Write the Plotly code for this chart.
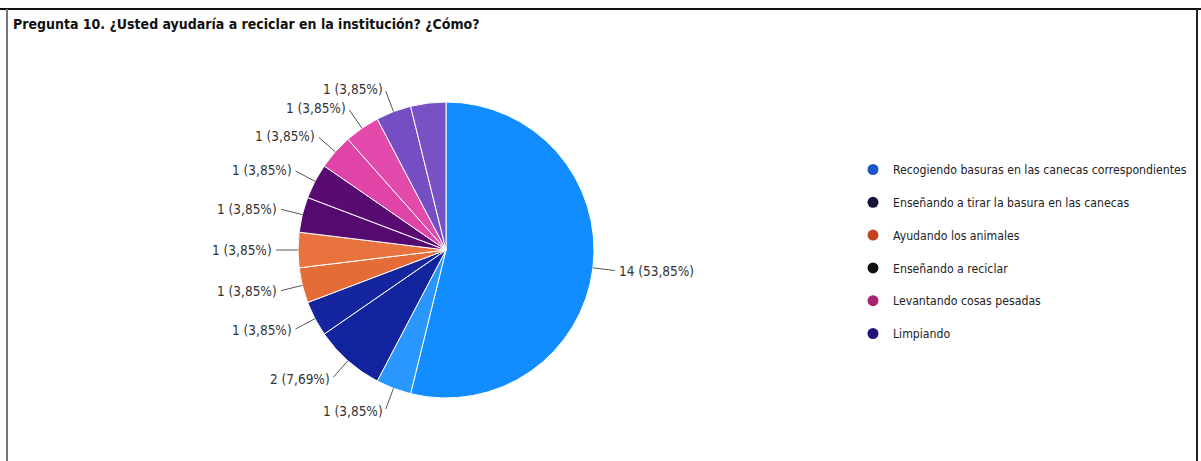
import math
import plotly.graph_objects as go

# ---- data ----
title_text = "Pregunta 10. ¿Usted ayudaría a reciclar en la institución? ¿Cómo?"
slice_labels = ["R1", "R2", "R3", "R4", "R5", "R6", "R7", "R8", "R9", "R10", "R11", "R12"]
slice_values = [14, 1, 2, 1, 1, 1, 1, 1, 1, 1, 1, 1]
slice_colors = ["#118DFF", "#2A97FF", "#12239E", "#15259E", "#E66C37", "#E8733F",
                "#540A6E", "#580C72", "#E044A7", "#E24BAB", "#744EC2", "#7852C4"]
slice_show_label = [True] * 11 + [False]

legend_labels = ["Recogiendo basuras en las canecas correspondientes",
                 "Enseñando a tirar la basura en las canecas",
                 "Ayudando los animales",
                 "Enseñando a reciclar",
                 "Levantando cosas pesadas",
                 "Limpiando"]
legend_colors = ["#1F55C8", "#14143A", "#C4431C", "#111111", "#A8236E", "#1E1678"]

# ---- layout constants ----
W, H = 1201, 461
cx, cy, r = 446, 250, 148
FONT = "DejaVu Sans Condensed, Liberation Sans Narrow, sans-serif"
LEAD = 24

fig = go.Figure()
fig.add_trace(go.Pie(
    labels=slice_labels,
    values=slice_values,
    sort=False,
    direction="clockwise",
    rotation=0,
    marker=dict(colors=slice_colors, line=dict(color="white", width=1)),
    textinfo="none",
    showlegend=False,
    domain=dict(x=[(cx - r) / W, (cx + r) / W], y=[(H - cy - r) / H, (H - cy + r) / H]),
    hoverinfo="label+value+percent",
))

# outside labels with leader lines, derived from the data
total = sum(slice_values)
annotations = []
cum = 0
for v, show in zip(slice_values, slice_show_label):
    mid = (cum + v / 2) / total * 2 * math.pi
    cum += v
    if not show:
        continue
    sx, sy = math.sin(mid), -math.cos(mid)
    px, py = cx + r * sx, cy + r * sy
    txt = f"{v} ({v / total * 100:.2f}%)".replace(".", ",")
    annotations.append(dict(
        x=px / W, y=1 - py / H, xref="paper", yref="paper",
        ax=LEAD * sx, ay=LEAD * sy, axref="pixel", ayref="pixel",
        text=txt, showarrow=True, arrowhead=0, arrowwidth=1, arrowcolor="#555555",
        standoff=0, startstandoff=2,
        xanchor="left" if sx > 0 else "right", yanchor="middle",
        font=dict(family=FONT, size=13.5, color="#333333"),
    ))

annotations.append(dict(text="<b>" + title_text + "</b>", xref="paper", yref="paper",
                        x=11 / W, y=1 - 14 / H, xanchor="left", yanchor="top",
                        showarrow=False, font=dict(family=FONT, size=14, color="#111111")))

for name, col in zip(legend_labels, legend_colors):
    fig.add_trace(go.Scatter(
        x=[None], y=[None], mode="markers", name=name,
        marker=dict(color=col, size=11, symbol="circle"),
        legendgroup=name, showlegend=True,
    ))

fig.update_layout(
    width=W, height=H,
    margin=dict(l=0, r=0, t=0, b=0),
    paper_bgcolor="white", plot_bgcolor="white",
    separators=",.",
    xaxis=dict(visible=False), yaxis=dict(visible=False),
    legend=dict(x=853 / W, y=1 - 155 / H, xanchor="left", yanchor="top",
                font=dict(family=FONT, size=12.2, color="#222222"),
                tracegroupgap=13.8, itemwidth=30, bgcolor="rgba(0,0,0,0)"),
    annotations=annotations,
    shapes=[
        dict(type="line", xref="paper", yref="paper", x0=0, x1=1, y0=1 - 9 / H, y1=1 - 9 / H,
             line=dict(color="#111111", width=2)),
        dict(type="line", xref="paper", yref="paper", x0=7 / W, x1=7 / W, y0=0, y1=1 - 9 / H,
             line=dict(color="#777777", width=2)),
        dict(type="line", xref="paper", yref="paper", x0=1197 / W, x1=1197 / W, y0=0, y1=1 - 9 / H,
             line=dict(color="#222222", width=2)),
    ],
)

fig.write_html("out.html", config={"displayModeBar": False},
               post_script="document.body.style.margin='0';document.body.style.overflow='hidden';")
